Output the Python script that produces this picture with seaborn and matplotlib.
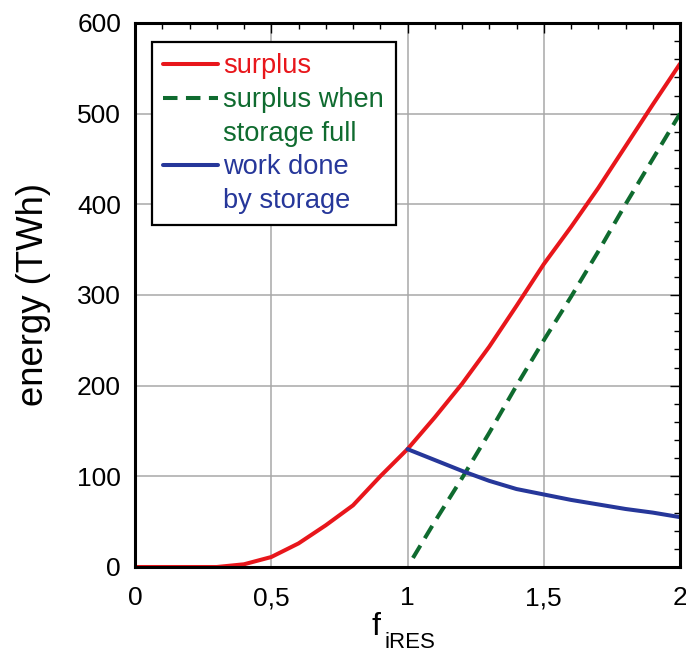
import matplotlib
matplotlib.use("Agg")
import matplotlib.pyplot as plt
import seaborn as sns
from matplotlib.lines import Line2D
from matplotlib.ticker import MultipleLocator, FixedLocator, FixedFormatter

# ---- data ----
f_surplus = [0.0, 0.1, 0.2, 0.3, 0.4, 0.5, 0.6, 0.7, 0.8, 0.9, 1.0,
             1.1, 1.2, 1.3, 1.4, 1.5, 1.6, 1.7, 1.8, 1.9, 2.0]
surplus = [0, 0, 0, 0, 3, 11, 26, 46, 68, 100, 130,
           165, 202, 243, 288, 334, 375, 418, 464, 510, 555]

f_full = [1.02, 1.1, 1.2, 1.3, 1.4, 1.5, 1.6, 1.7, 1.8, 1.9, 2.0]
surplus_full = [10, 50, 98, 148, 200, 250, 298, 348, 400, 450, 500]

f_work = [1.0, 1.1, 1.2, 1.3, 1.4, 1.5, 1.6, 1.7, 1.8, 1.9, 2.0]
work = [130, 118, 106, 95, 86, 80, 74, 69, 64, 60, 55]

x_ticks = [0, 0.5, 1, 1.5, 2]
x_tick_labels = ["0", "0,5", "1", "1,5", "2"]
y_ticks = [0, 100, 200, 300, 400, 500, 600]

RED = "#e8161b"
GREEN = "#0f6b2f"
BLUE = "#26379a"
LW = 2.9
DASH = (3.6, 2.1)

sns.set_theme(style="white")
plt.rcParams["font.family"] = ["Liberation Sans", "DejaVu Sans"]

W, H = 686, 655
fig = plt.figure(figsize=(W / 100, H / 100), dpi=100)
L, R, B, T = 135, 680, 567, 23
ax = fig.add_axes([L / W, (H - B) / H, (R - L) / W, (B - T) / H])

sns.lineplot(x=f_surplus, y=surplus, ax=ax, color=RED, lw=LW, zorder=3)
sns.lineplot(x=f_full, y=surplus_full, ax=ax, color=GREEN, lw=LW, zorder=3)
ax.lines[-1].set_dashes(DASH)
sns.lineplot(x=f_work, y=work, ax=ax, color=BLUE, lw=LW, zorder=3)

ax.set_xlim(0, 2)
ax.set_ylim(0, 600)
ax.xaxis.set_major_locator(FixedLocator(x_ticks))
ax.xaxis.set_major_formatter(FixedFormatter(x_tick_labels))
ax.xaxis.set_minor_locator(MultipleLocator(0.1))
ax.yaxis.set_major_locator(FixedLocator(y_ticks))
ax.yaxis.set_minor_locator(MultipleLocator(20))

ax.grid(True, which="major", color="#a8a8a8", lw=1.1, zorder=0)
ax.set_axisbelow(True)
for s in ax.spines.values():
    s.set_color("black")
    s.set_linewidth(2.2)
    s.set_zorder(4)

ax.tick_params(which="both", direction="in", top=True, right=True,
               color="black", width=1.0, labelsize=19, labelcolor="black")
ax.tick_params(which="major", length=7)
ax.tick_params(which="minor", length=4.5)
ax.tick_params(axis="x", which="major", pad=14)
ax.tick_params(axis="y", which="major", pad=10)

ax.set_ylabel("energy (TWh)", fontsize=26.3, color="black")
ax.yaxis.set_label_coords((51 - L) / (R - L), 0.5)

# x label: f with subscript iRES
ax.set_xlabel("")
fig.text(371 / W, 1 - 635 / H, "f", fontsize=23, color="black",
         ha="left", va="baseline")
fig.text(385 / W, 1 - 648 / H, "iRES", fontsize=16, color="black",
         ha="left", va="baseline")

# legend (5 rows: continuation lines have blank handles)
handles = [
    Line2D([], [], color=RED, lw=LW),
    Line2D([], [], color=GREEN, lw=LW, dashes=DASH),
    Line2D([], [], color="none"),
    Line2D([], [], color=BLUE, lw=LW),
    Line2D([], [], color="none"),
]
labels = ["surplus", "surplus when", "storage full", "work done", "by storage"]
text_colors = [RED, GREEN, GREEN, BLUE, BLUE]
leg = ax.legend(handles, labels, loc="upper left",
                bbox_to_anchor=((152 - L) / (R - L), (B - 42) / (B - T)),
                borderaxespad=0, fontsize=19.6, frameon=True, fancybox=False,
                edgecolor="black", framealpha=1, handlelength=2.0,
                handletextpad=0.2, borderpad=0.42, labelspacing=0.28)
leg.get_frame().set_linewidth(1.6)
for t, c in zip(leg.get_texts(), text_colors):
    t.set_color(c)
leg.set_zorder(5)

fig.savefig("out.png", dpi=100)
